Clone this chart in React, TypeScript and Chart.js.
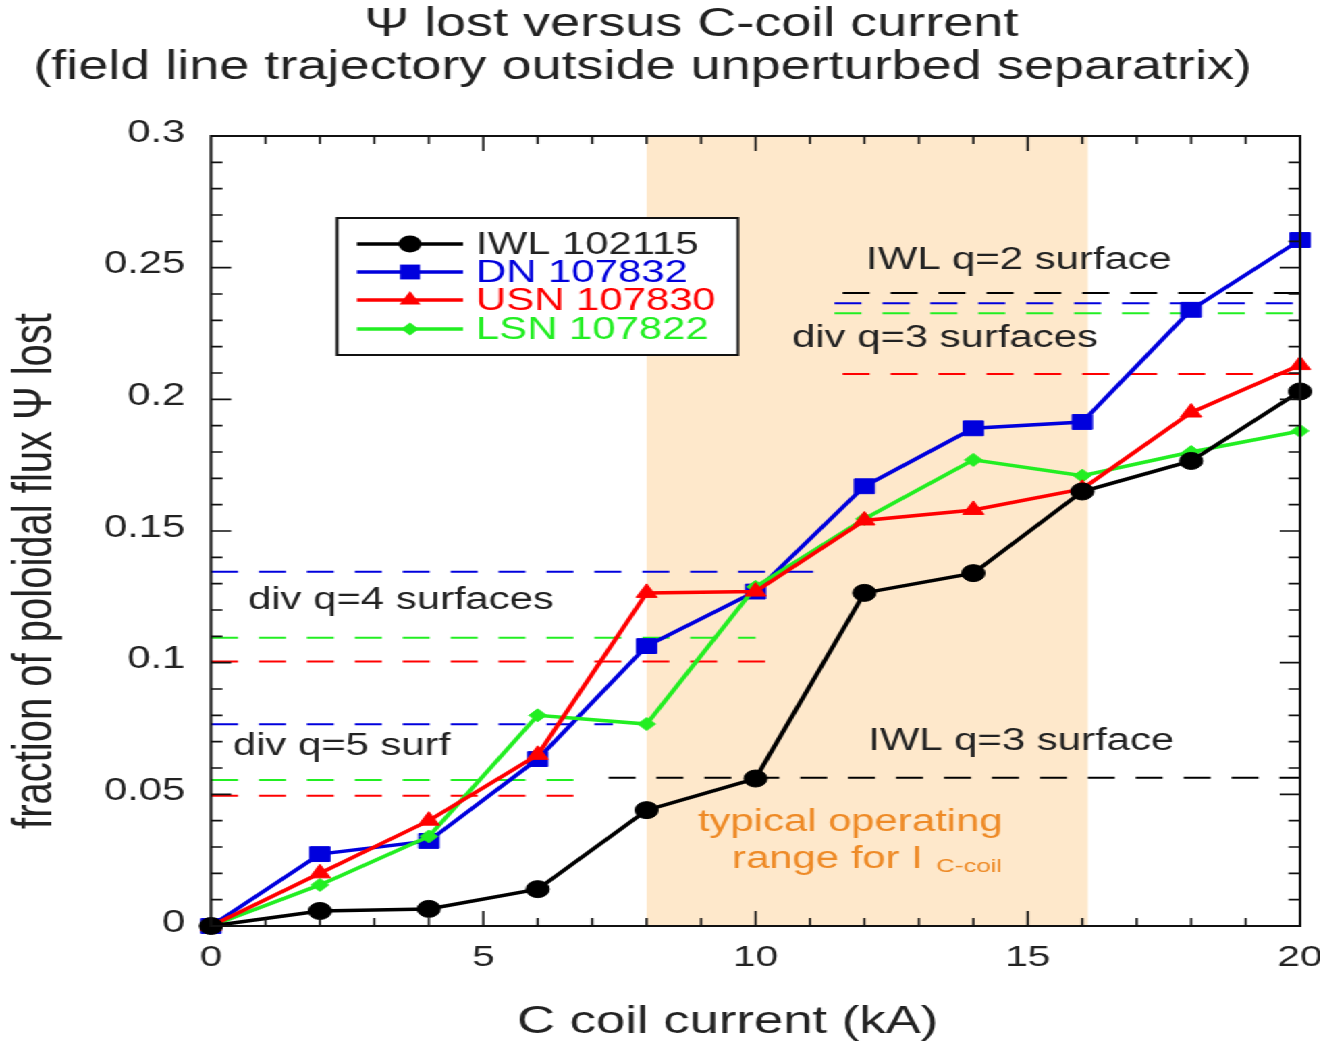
import React, { useEffect, useRef } from 'react';
import { Chart, registerables } from 'chart.js';

Chart.register(...registerables);

// C-coil current (kA)
const currentsKA = [0, 2, 4, 6, 8, 10, 12, 14, 16, 18, 20];

// fraction of poloidal flux lost, per discharge
const iwl102115 = [0, 0.0057, 0.0065, 0.014, 0.044, 0.056, 0.1265, 0.134, 0.165, 0.1766, 0.203];
const dn107832 = [0, 0.0273, 0.0323, 0.0634, 0.1063, 0.127, 0.167, 0.189, 0.1914, 0.234, 0.2605];
const usn107830 = [0, 0.02, 0.04, 0.065, 0.1265, 0.127, 0.154, 0.158, 0.166, 0.195, 0.213];
const lsn107822 = [0, 0.0156, 0.034, 0.08, 0.0767, 0.1288, 0.1546, 0.177, 0.171, 0.18, 0.188];

// flux level of rational surfaces: [discharge, psi fraction, from kA, to kA]
const surfaceLevels: [string, number, number, number][] = [
  ['IWL', 0.2404, 11.6, 20],
  ['DN', 0.2365, 11.45, 20],
  ['LSN', 0.2327, 11.45, 20],
  ['USN', 0.2096, 11.6, 20],
  ['DN', 0.1345, 0, 11.37],
  ['LSN', 0.1095, 0, 10.0],
  ['USN', 0.1004, 0, 10.34],
  ['DN', 0.0766, 0, 7.38],
  ['IWL', 0.0563, 7.3, 20],
  ['LSN', 0.0554, 0, 6.76],
  ['USN', 0.0495, 0, 6.76],
];

// typical operating range of the C-coil current (kA)
const operatingRangeKA = [8, 16.1];

const yTicks = [0, 0.05, 0.1, 0.15, 0.2, 0.25, 0.3];
const yTickLabels = ['0', '0.05', '0.1', '0.15', '0.2', '0.25', '0.3'];

const palette: Record<string, string> = {
  IWL: '#000000',
  DN: '#0000dd',
  USN: '#ff0000',
  LSN: '#22ee22',
};

type Series = { key: string; label: string; values: number[]; shape: string; radius: number };

const legendSeries: Series[] = [
  { key: 'IWL', label: 'IWL 102115', values: iwl102115, shape: 'circle', radius: 8.5 },
  { key: 'DN', label: 'DN 107832', values: dn107832, shape: 'rect', radius: 10.5 },
  { key: 'USN', label: 'USN 107830', values: usn107830, shape: 'triangle', radius: 9 },
  { key: 'LSN', label: 'LSN 107822', values: lsn107822, shape: 'rectRot', radius: 6.5 },
];

// drawing order: first entry ends up on top
const drawOrder = ['IWL', 'USN', 'LSN', 'DN'];

// labels anchored in data coordinates (kA, fraction)
const notes: { text: string; x: number; y: number; color: string }[] = [
  { text: 'IWL q=2 surface', x: 12.03, y: 0.2526, color: '#222' },
  { text: 'div q=3 surfaces', x: 10.67, y: 0.2233, color: '#222' },
  { text: 'div q=4 surfaces', x: 0.68, y: 0.1238, color: '#222' },
  { text: 'div q=5 surf', x: 0.4, y: 0.068, color: '#222' },
  { text: 'IWL q=3 surface', x: 12.07, y: 0.0699, color: '#222' },
  { text: 'typical operating', x: 8.94, y: 0.0395, color: '#ee8a26' },
];

const W = 978;
const H = 1042;
const STRETCH = 1.35;
const FONT = '"Liberation Sans", Arial, Helvetica, sans-serif';

function markerPath(ctx: CanvasRenderingContext2D, shape: string, x: number, y: number, r: number) {
  ctx.beginPath();
  if (shape === 'circle') {
    ctx.arc(x, y, r, 0, Math.PI * 2);
  } else if (shape === 'rect') {
    const s = r * Math.SQRT1_2;
    ctx.rect(x - s, y - s, 2 * s, 2 * s);
  } else if (shape === 'triangle') {
    const a = (2 * Math.PI) / 3;
    ctx.moveTo(x, y - r);
    ctx.lineTo(x + Math.sin(a) * r, y - Math.cos(a) * r);
    ctx.lineTo(x + Math.sin(-a) * r, y - Math.cos(-a) * r);
  } else {
    ctx.moveTo(x - r, y);
    ctx.lineTo(x, y - r);
    ctx.lineTo(x + r, y);
    ctx.lineTo(x, y + r);
  }
  ctx.closePath();
}

const decorations = {
  id: 'decorations',
  beforeDatasetsDraw(chart: any) {
    const { ctx, chartArea: a, scales } = chart;
    const x0 = scales.x.getPixelForValue(operatingRangeKA[0]);
    const x1 = scales.x.getPixelForValue(operatingRangeKA[1]);
    ctx.save();
    ctx.fillStyle = '#fee8cb';
    ctx.fillRect(x0, a.top, x1 - x0, a.bottom - a.top);
    ctx.restore();
  },
  afterDraw(chart: any) {
    const { ctx, chartArea: a, scales } = chart;
    const xs = scales.x;
    const ys = scales.y;
    ctx.save();

    // frame with inward ticks on all four sides
    ctx.strokeStyle = '#111';
    ctx.lineWidth = 2;
    ctx.strokeRect(a.left, a.top, a.right - a.left, a.bottom - a.top);
    ctx.lineWidth = 1.6;
    ctx.beginPath();
    for (let v = 1; v < 20; v++) {
      const px = xs.getPixelForValue(v);
      const len = v % 5 === 0 ? 15 : 8;
      ctx.moveTo(px, a.bottom);
      ctx.lineTo(px, a.bottom - len);
      ctx.moveTo(px, a.top);
      ctx.lineTo(px, a.top + len);
    }
    for (let i = 1; i < 30; i++) {
      const py = ys.getPixelForValue(i / 100);
      const len = i % 5 === 0 ? 15 : 8.5;
      ctx.moveTo(a.left, py);
      ctx.lineTo(a.left + len, py);
      ctx.moveTo(a.right, py);
      ctx.lineTo(a.right - len, py);
    }
    ctx.stroke();

    // surface labels
    ctx.textBaseline = 'middle';
    ctx.textAlign = 'left';
    ctx.font = `31px ${FONT}`;
    for (const n of notes) {
      ctx.fillStyle = n.color;
      ctx.fillText(n.text, xs.getPixelForValue(n.x), ys.getPixelForValue(n.y));
    }
    const rx = xs.getPixelForValue(9.57);
    const ry = ys.getPixelForValue(0.0254);
    ctx.fillStyle = '#ee8a26';
    ctx.fillText('range for I', rx, ry);
    const w = ctx.measureText('range for I').width;
    ctx.font = `19px ${FONT}`;
    ctx.fillText('C-coil', rx + w + 10, ry + 8);

    // legend
    const bx = 249.6;
    const by = 218;
    const bw = 297;
    const bh = 137;
    ctx.fillStyle = '#ffffff';
    ctx.fillRect(bx, by, bw, bh);
    ctx.strokeStyle = '#111';
    ctx.lineWidth = 2;
    ctx.strokeRect(bx, by, bw, bh);
    const rows = [244, 272, 300, 329];
    legendSeries.forEach((s, i) => {
      const c = palette[s.key];
      const yy = rows[i];
      ctx.strokeStyle = c;
      ctx.lineWidth = 3.5;
      ctx.beginPath();
      ctx.moveTo(264.4, yy);
      ctx.lineTo(343, yy);
      ctx.stroke();
      ctx.fillStyle = c;
      markerPath(ctx, s.shape, 303.7, yy, s.radius);
      ctx.fill();
      ctx.font = `31px ${FONT}`;
      ctx.fillStyle = s.key === 'IWL' ? '#222' : c;
      ctx.textAlign = 'left';
      ctx.textBaseline = 'middle';
      ctx.fillText(s.label, 352.6, yy + 1);
    });

    // titles
    ctx.fillStyle = '#222';
    ctx.textAlign = 'center';
    ctx.textBaseline = 'middle';
    ctx.font = `40px ${FONT}`;
    ctx.fillText('Ψ lost versus C-coil current', 512, 25);
    ctx.fillText('(field line trajectory outside unperturbed separatrix)', 476, 68);
    ctx.font = `39px ${FONT}`;
    ctx.fillText('C coil current (kA)', 539, 1022);
    ctx.save();
    ctx.translate(27, 571);
    ctx.rotate(-Math.PI / 2);
    ctx.font = `40px ${FONT}`;
    ctx.fillText('fraction of poloidal flux Ψ lost', 0, 0);
    ctx.restore();

    ctx.restore();
  },
};

export default function App() {
  const canvasRef = useRef<HTMLCanvasElement | null>(null);

  useEffect(() => {
    document.body.style.overflow = 'hidden';
    const canvas = canvasRef.current;
    if (!canvas) return;

    const seriesSets = drawOrder.map((key) => {
      const s = legendSeries.find((d) => d.key === key)!;
      const c = palette[key];
      return {
        label: s.label,
        data: currentsKA.map((x, i) => ({ x, y: s.values[i] })),
        borderColor: c,
        backgroundColor: c,
        borderWidth: 3.5,
        pointStyle: s.shape,
        pointRadius: s.radius,
        pointBackgroundColor: c,
        pointBorderColor: c,
        pointBorderWidth: 1,
        clip: false as const,
      };
    });

    const levelSets = surfaceLevels.map(([key, y, from, to]) => ({
      label: `${key} surface`,
      data: [
        { x: from, y },
        { x: to, y },
      ],
      borderColor: palette[key],
      borderWidth: 2,
      borderDash: [20, 15.5],
      pointRadius: 0,
      clip: false as const,
    }));

    const chart = new Chart(canvas, {
      type: 'line',
      data: { datasets: [...seriesSets, ...levelSets] as any },
      options: {
        animation: false,
        responsive: false,
        devicePixelRatio: 1,
        layout: { padding: { top: 136, right: 15, bottom: 0, left: 0 } },
        plugins: { legend: { display: false }, title: { display: false }, tooltip: { enabled: false } },
        scales: {
          x: {
            type: 'linear',
            min: 0,
            max: 20,
            grid: { display: false, drawTicks: false },
            border: { display: false },
            ticks: {
              stepSize: 5,
              padding: 14,
              color: '#222',
              font: { size: 30, family: FONT },
              maxRotation: 0,
            },
            afterFit: (scale: any) => {
              scale.height = H - 926;
              scale.paddingLeft = 0;
              scale.paddingRight = 0;
            },
          },
          y: {
            type: 'linear',
            min: 0,
            max: 0.3,
            grid: { display: false, drawTicks: false },
            border: { display: false },
            afterBuildTicks: (scale: any) => {
              scale.ticks = yTicks.map((v) => ({ value: v }));
            },
            ticks: {
              padding: 19,
              labelOffset: -3,
              color: '#222',
              font: { size: 31, family: FONT },
              callback: (v: any) => {
                const i = yTicks.findIndex((t) => Math.abs(t - Number(v)) < 1e-9);
                return i >= 0 ? yTickLabels[i] : '';
              },
            },
            afterFit: (scale: any) => {
              scale.width = 156.3;
              scale.paddingTop = 0;
              scale.paddingBottom = 0;
            },
          },
        },
      },
      plugins: [decorations],
    });

    return () => chart.destroy();
  }, []);

  return (
    <div
      style={{
        position: 'absolute',
        left: 0,
        top: 0,
        width: W,
        height: H,
        transform: `scaleX(${STRETCH})`,
        transformOrigin: '0 0',
        background: '#fff',
      }}
    >
      <canvas ref={canvasRef} width={W} height={H} style={{ display: 'block', width: W, height: H }} />
    </div>
  );
}
